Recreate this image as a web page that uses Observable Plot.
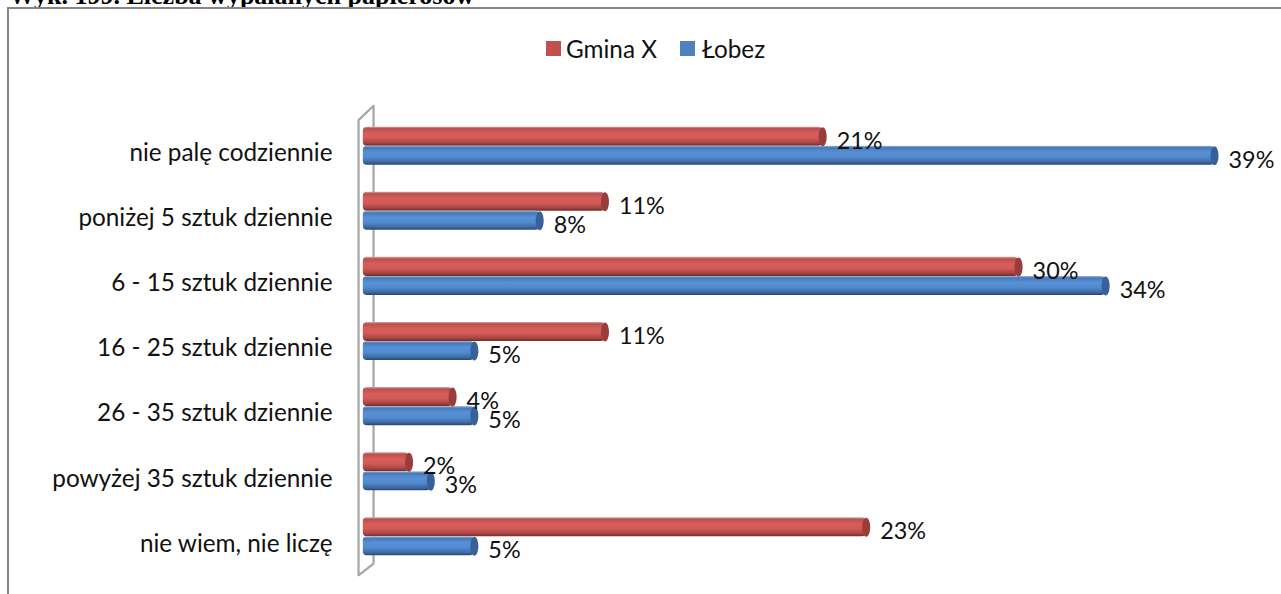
<!DOCTYPE html>
<html lang="pl"><head><meta charset="utf-8">
<script src="https://cdn.jsdelivr.net/npm/d3@7"></script>
<script src="https://cdn.jsdelivr.net/npm/@observablehq/plot@0.6"></script>
<style>
html,body{margin:0;padding:0;background:#fff;overflow:hidden;width:1281px;height:594px}
#title{position:absolute;left:9px;top:-19.3px;font:bold 26px "Liberation Serif",serif;color:#000;white-space:nowrap;line-height:30px;height:30px}
#border{position:absolute;left:7px;top:7px;right:0;bottom:0;border-left:2px solid #868686;border-top:2px solid #868686;background:transparent}
#chart{position:absolute;left:0;top:0}
#legend{font:24.3px Lato,sans-serif;color:#111}
#legend i{position:absolute;top:41px;width:15px;height:15px}
#legend b{position:absolute;top:34px;font-weight:400;line-height:30px;white-space:nowrap}
svg text{font-family:Lato,sans-serif}
</style></head><body>
<div id="chart"></div>
<div id="title">Wyk. 199. Liczba wypalanych papierosów</div>
<div id="border"></div>
<div id="legend"><i style="left:546px;background:#c0504d"></i><b style="left:566px">Gmina X</b><i style="left:680px;background:#4f81bd"></i><b style="left:702px">Łobez</b></div>
<script>
const categories = ["nie palę codziennie","poniżej 5 sztuk dziennie","6 - 15 sztuk dziennie","16 - 25 sztuk dziennie","26 - 35 sztuk dziennie","powyżej 35 sztuk dziennie","nie wiem, nie liczę"];
const gminaX = [21,11,30,11,4,2,23];
const lobez = [39,8,34,5,5,3,5];
const data = categories.flatMap((c,i)=>[
  {c,row:i,series:0,v:gminaX[i]},
  {c,row:i,series:1,v:lobez[i]}
]);
const bw = 0.292; // bar thickness in row units
const y1 = d=>d.row+0.5+(d.series===0?-bw:0);
const y2 = d=>d.row+0.5+(d.series===0?0:bw);
const yc = d=>(y1(d)+y2(d))/2;
const ellipse = {draw(ctx){
  const rx=4, ry=9.5, k=0.5523;
  ctx.moveTo(rx,0);
  ctx.bezierCurveTo(rx,k*ry,k*rx,ry,0,ry);
  ctx.bezierCurveTo(-k*rx,ry,-rx,k*ry,-rx,0);
  ctx.bezierCurveTo(-rx,-k*ry,-k*rx,-ry,0,-ry);
  ctx.bezierCurveTo(k*rx,-ry,rx,-k*ry,rx,0);
  ctx.closePath();
}};
function defs(){
  const g=d3.create("svg:defs");
  const mk=(id,stops)=>{const l=g.append("linearGradient").attr("id",id).attr("x1",0).attr("y1",0).attr("x2",0).attr("y2",1);
    stops.forEach(([o,c])=>l.append("stop").attr("offset",o).attr("stop-color",c));};
  mk("gRed",[[0,"#d9a5a3"],[0.1,"#b9504d"],[0.35,"#d65d5a"],[0.6,"#d25a57"],[0.85,"#a84542"],[1,"#702b29"]]);
  mk("gBlue",[[0,"#a9c2e2"],[0.1,"#4878b2"],[0.35,"#5890d8"],[0.6,"#538bd0"],[0.85,"#3f6ba6"],[1,"#29466e"]]);
  return g.node();
}
const wall = [[0.37,-0.12],[-0.32,0.1],[-0.32,7.09],[0.37,6.91],[0.37,-0.12]].map(([x,y])=>({x,y}));
const plot = Plot.plot({
  width:1281,height:594,
  marginLeft:0,marginRight:0,marginTop:0,marginBottom:0,
  x:{domain:[0,39],range:[365,1214],axis:null},
  y:{domain:[0,7],range:[113.1,568.9]},
  marks:[
    defs,
    Plot.line(wall,{x:"x",y:"y",stroke:"#a6a6a6",strokeWidth:2.2}),
    Plot.axisY(categories.map((_,i)=>i+0.5),{anchor:"left",tickSize:0,label:null,
      tickFormat:(d)=>categories[d-0.5],fontSize:24.3,fill:"#111",textAnchor:"end",dx:332,dy:7,tickPadding:0}),
    Plot.rectX(data.filter(d=>d.series===0),{x1:-0.1,x2:"v",y1,y2,fill:"url(#gRed)",rx:4}),
    Plot.rectX(data.filter(d=>d.series===1),{x1:-0.1,x2:"v",y1,y2,fill:"url(#gBlue)",rx:4}),
    Plot.dot(data.filter(d=>d.series===0),{x:"v",y:yc,symbol:ellipse,fill:"#9a3d3a",stroke:null}),
    Plot.dot(data.filter(d=>d.series===1),{x:"v",y:yc,symbol:ellipse,fill:"#38619a",stroke:null}),
    Plot.text(data,{x:"v",y:yc,text:d=>d.v+"%",textAnchor:"start",dx:14,dy:4.5,fontSize:23.4,fill:"#111"})
  ]
});
document.getElementById("chart").append(plot);
</script>
</body></html>
